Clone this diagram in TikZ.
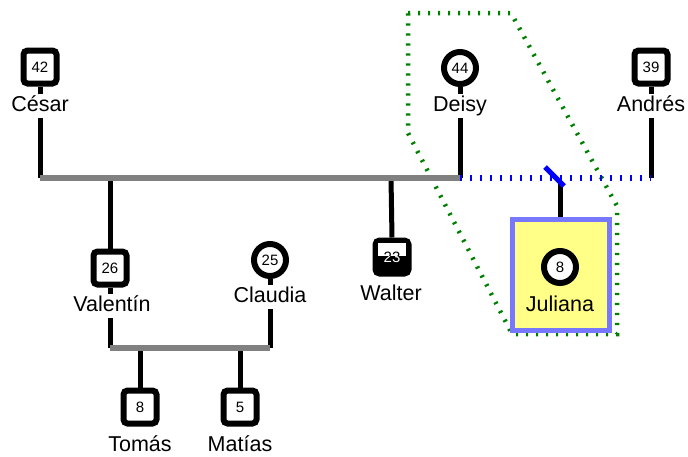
\documentclass[tikz,border=0pt]{standalone}
\usepackage{fontspec}
\setmainfont{Liberation Sans}
\begin{document}
\begin{tikzpicture}[x=1pt,y=-1pt,
  num/.style={font=\fontsize{15}{15}\selectfont},
  male/.style={draw=black, line width=6pt, rounded corners=4pt, fill=white,
    minimum width=33pt, minimum height=33pt, inner sep=0pt, num},
  female/.style={circle, draw=black, line width=6pt, fill=white,
    minimum size=32pt, inner sep=0pt, num},
  personlabel/.style={font=\fontsize{21.5}{21.5}\selectfont, text height=15.5pt, text depth=4pt, inner sep=2pt},
  conn/.style={line width=5pt, black},
  bar/.style={line width=6pt, draw={rgb,255:red,128;green,128;blue,128}},
  sepline/.style={line width=6pt, draw={rgb,255:red,0;green,0;blue,255}, dash pattern=on 2pt off 8pt},
  household/.style={line width=4.5pt, draw={rgb,255:red,0;green,128;blue,0}, dash pattern=on 2.2pt off 7.8pt},
  focus/.style={draw={rgb,255:red,120;green,120;blue,255}, line width=5pt,
    fill={rgb,255:red,255;green,255;blue,136}, minimum width=97pt, minimum height=111pt, inner sep=0pt}]
\useasboundingbox (0,0) rectangle (688,456);

% household boundary
\draw[household] (408,13) -- (511,13) -- (617,206) -- (617,334) -- (512,334) -- (408,133) -- cycle;

% focus person
\node[focus] (jbox) at (561,275) {};

% people
\node[male] (cesar) at (40,67) {42};
\node[personlabel] (cesarL) at (40,106) {César};
\node[female] (deisy) at (460,68) {44};
\node[personlabel] (deisyL) at (460,106) {Deisy};
\node[male] (andres) at (651,67) {39};
\node[personlabel] (andresL) at (651,106) {Andrés};
\node[male] (valentin) at (110,268) {26};
\node[personlabel] (valentinL) at (112,306) {Valentín};
\node[female] (claudia) at (270,260) {25};
\node[personlabel] (claudiaL) at (270,297) {Claudia};
\node[male, fill=black] (walter) at (392,257) {};
\node[personlabel] (walterL) at (391,295) {Walter};
\node[female] (juliana) at (560,267) {8};
\node[personlabel] (julianaL) at (560,306) {Juliana};
\node[male] (tomas) at (140,407) {8};
\node[personlabel] (tomasL) at (140,446) {Tomás};
\node[male] (matias) at (240,407) {5};
\node[personlabel] (matiasL) at (240,446) {Matías};

% half-filled marker for Walter
\fill[white] (378,243) rectangle (406,256);
\node[num] at (walter) {23};
\begin{scope}
  \clip (376,256) rectangle (408,272);
  \node[num, white] at (walter) {23};
\end{scope}

% junction points
\coordinate (b1L) at (40,178);
\coordinate (b1D) at (460,178);
\coordinate (b1A) at (651,178);
\coordinate (b1V) at (110,178);
\coordinate (b1W) at (391,178);
\coordinate (b2L) at (110,348);
\coordinate (b2R) at (270,348);
\coordinate (b2T) at (140,348);
\coordinate (b2M) at (240,348);
\coordinate (jtop) at (560,181);
\coordinate (cutA) at (545,167);
\coordinate (cutB) at (564,186);

% person stems
\draw[conn] (cesar) -- (cesarL);
\draw[conn] (deisy) -- (deisyL);
\draw[conn] (andres) -- (andresL);
\draw[conn] (claudia) -- (claudiaL);
\draw[conn] (walter.north) -- (b1W);
\draw[conn] (cesarL) -- (b1L);
\draw[conn] (deisyL) -- (b1D);
\draw[conn] (andresL) -- (b1A);
\draw[conn] (b1V) -- (valentin.north);
\draw[conn] (valentin) -- (valentinL.north -| valentin);
\draw[conn] (valentinL.south -| b2L) -- (b2L);
\draw[conn] (claudiaL) -- (b2R);
\draw[conn] (b2T) -- (tomas.north);
\draw[conn] (b2M) -- (matias.north);
\draw[conn] (jtop) -- (jbox.north -| jtop);

% unions
\draw[bar] (b1L) -- (b1D);
\draw[sepline] (b1D) -- (b1A);
\draw[bar] (b2L) -- (b2R);
\draw[line width=5pt, draw={rgb,255:red,0;green,0;blue,255}] (cutA) -- (cutB);
\end{tikzpicture}
\end{document}
